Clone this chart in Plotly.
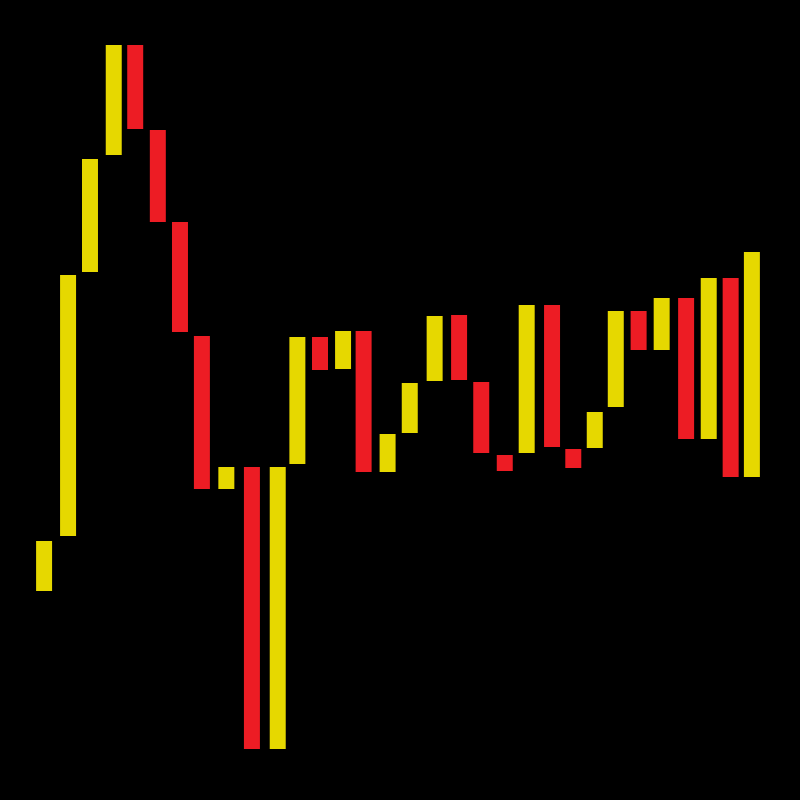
import plotly.graph_objects as go

# Session positions and open/close values (price units)
x_pos = [1.93, 2.98, 3.94, 4.98, 5.92, 6.91, 7.88, 8.84, 9.91, 11.03, 12.16, 13.02,
         14.01, 15.02, 15.92, 16.97, 17.94, 19.03, 20.10, 21.07, 22.10, 23.06, 24.17, 25.10,
         26.04, 26.96, 27.96, 28.97, 30.04, 31.03, 31.99, 32.92]
open_vals = [20.9, 26.4, 52.8, 64.5, 75.5, 67.0, 57.8, 46.4, 31.1, 33.3, 5.1, 33.6,
             46.3, 43.1, 46.9, 32.8, 36.7, 41.9, 48.5, 41.8, 34.5, 34.7, 49.5, 35.1,
             35.2, 39.3, 48.9, 45.0, 50.2, 36.1, 52.2, 32.3]
close_vals = [25.9, 52.5, 64.1, 75.5, 67.1, 57.8, 46.8, 31.1, 33.3, 5.1, 33.3, 46.3,
              43.0, 46.9, 32.8, 36.6, 41.7, 48.4, 42.0, 34.7, 32.9, 49.5, 35.3, 33.2,
              38.8, 48.9, 45.0, 50.2, 36.1, 52.2, 32.3, 54.8]

UP = "#E6D800"
DOWN = "#ED1C24"

base = [min(o, c) for o, c in zip(open_vals, close_vals)]
height = [abs(c - o) for o, c in zip(open_vals, close_vals)]
colors = [UP if c >= o else DOWN for o, c in zip(open_vals, close_vals)]

fig = go.Figure(go.Bar(
    x=x_pos, y=height, base=base, width=0.70,
    marker=dict(color=colors, line=dict(width=0)),
    hoverinfo="skip",
))

fig.update_layout(
    width=800, height=800,
    margin=dict(l=0, r=0, t=0, b=0),
    paper_bgcolor="black", plot_bgcolor="black",
    showlegend=False,
    xaxis=dict(range=[0, 35.026], visible=False, showgrid=False, zeroline=False),
    yaxis=dict(range=[0, 80], visible=False, showgrid=False, zeroline=False),
)

fig.write_html(
    "out.html",
    config={"displayModeBar": False},
    post_script="document.body.style.margin='0';document.body.style.background='black';"
                "document.documentElement.style.background='black';"
                "document.body.style.overflow='hidden';",
)
